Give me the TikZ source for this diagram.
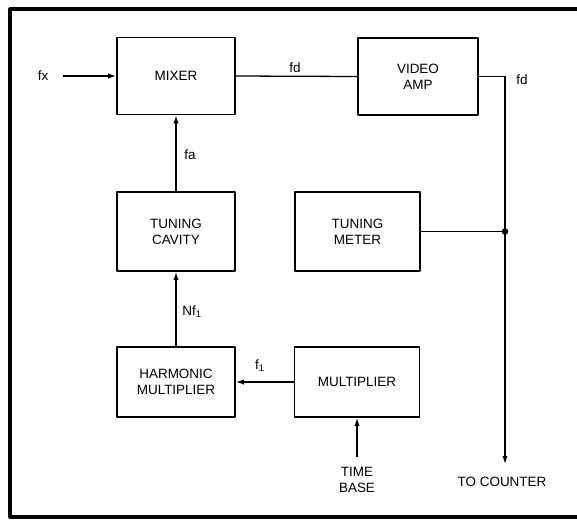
\documentclass[tikz,border=0pt]{standalone}
\usepackage{fontspec}
\setmainfont{Liberation Sans}
\usetikzlibrary{arrows.meta}
\begin{document}
\begin{tikzpicture}[x=0.03cm, y=-0.03cm, line join=round, >={Latex[length=2.4mm,width=1.6mm]}, font=\fontsize{11.5}{13.5}\selectfont]
	\tikzset{blk/.style={draw, line width=1.5pt, align=center, inner sep=0pt},
		wire/.style={line width=1.1pt},
		lbl/.style={inner sep=0pt, align=center}}
	\clip (0,0) rectangle (577,519);
	% outer frame, right side runs off the page
	\draw[line width=2.6pt] (600,9) -- (10,9) -- (10,517) -- (600,517);
	% blocks
	\node[blk, minimum width=3.54cm, minimum height=2.31cm] (mixer) at (176,76) {MIXER};
	\node[blk, minimum width=3.6cm, minimum height=2.31cm] (video) at (418,76.5) {VIDEO\\AMP};
	\node[blk, minimum width=3.54cm, minimum height=2.37cm] (cavity) at (176,231.5) {TUNING\\CAVITY};
	\node[blk, minimum width=3.75cm, minimum height=2.37cm] (meter) at (357.5,231.5) {TUNING\\METER};
	\node[blk, minimum width=3.54cm, minimum height=2.1cm] (harm) at (176,382) {HARMONIC\\MULTIPLIER};
	\node[blk, minimum width=3.75cm, minimum height=2.1cm] (mult) at (357,382) {MULTIPLIER};
	% free ends
	\path (63,76) coordinate (fxin)
		(357,457) coordinate (tbin)
		(505,464) coordinate (cnt);
	\coordinate (jn) at (meter.east -| cnt);
	% labels
	\node[lbl] (fx) at (43,76) {fx};
	\node[lbl] (fd) at (295,68) {fd};
	\node[lbl] (fdout) at (522,80) {fd};
	\node[lbl] (fa) at (190,155) {fa};
	\node[lbl] (nf) at (192,312) {Nf\textsubscript{1}};
	\node[lbl] (f1) at (260,366) {f\textsubscript{1}};
	\node[lbl] (tb) at (357,480) {TIME\\BASE};
	\node[lbl] (counter) at (502,482) {TO COUNTER};
	% connectors
	\draw[wire,->] (fxin) -- (mixer.west);
	\draw[wire] (mixer.east) -- (video.west);
	\draw[wire,->] (video.east) -| (cnt);
	\draw[wire] (meter.east) -- (jn);
	\fill (jn) circle (2.8pt);
	\draw[wire,->] (cavity.north) -- (mixer.south);
	\draw[wire,->] (harm.north) -- (cavity.south);
	\draw[wire,->] (mult.west) -- (harm.east);
	\draw[wire,->] (tbin) -- (mult.south);
\end{tikzpicture}
\end{document}
